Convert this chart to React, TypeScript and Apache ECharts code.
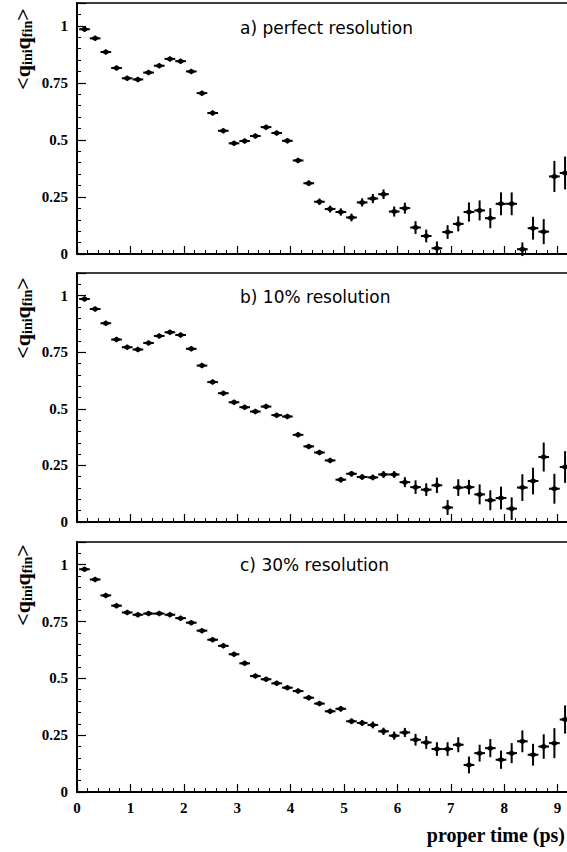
import React, { useEffect, useRef } from 'react';
import * as echarts from 'echarts';

// proper time bin centres (ps)
const TIMES = [
  0.14, 0.34, 0.54, 0.74, 0.94, 1.14, 1.34, 1.54, 1.74, 1.94,
  2.14, 2.34, 2.54, 2.74, 2.94, 3.14, 3.34, 3.54, 3.74, 3.94,
  4.14, 4.34, 4.54, 4.74, 4.94, 5.14, 5.34, 5.54, 5.74, 5.94,
  6.14, 6.34, 6.54, 6.74, 6.94, 7.14, 7.34, 7.54, 7.74, 7.94,
  8.14, 8.34, 8.54, 8.74, 8.94, 9.14,
];
const BIN_HALF_WIDTH = 0.1;

// a) perfect resolution
const VALUES_A = [
  0.985, 0.945, 0.885, 0.815, 0.77, 0.765, 0.795, 0.825, 0.855, 0.845,
  0.8, 0.705, 0.618, 0.54, 0.485, 0.495, 0.517, 0.556, 0.53, 0.496,
  0.41, 0.31, 0.229, 0.197, 0.184, 0.16, 0.226, 0.243, 0.262, 0.186,
  0.201, 0.116, 0.079, 0.025, 0.096, 0.132, 0.184, 0.191, 0.157, 0.22,
  0.22, 0.021, 0.113, 0.098, 0.34, 0.355,
];
const ERRORS_A = [
  0.006, 0.006, 0.006, 0.006, 0.006, 0.006, 0.006, 0.006, 0.006, 0.006,
  0.007, 0.007, 0.007, 0.008, 0.008, 0.008, 0.008, 0.009, 0.009, 0.01,
  0.01, 0.012, 0.014, 0.015, 0.016, 0.017, 0.018, 0.02, 0.021, 0.022,
  0.024, 0.028, 0.028, 0.03, 0.03, 0.033, 0.042, 0.044, 0.044, 0.05,
  0.05, 0.03, 0.05, 0.055, 0.068, 0.072,
];

// b) 10% resolution
const VALUES_B = [
  0.985, 0.941, 0.878, 0.806, 0.772, 0.762, 0.791, 0.822, 0.838, 0.826,
  0.765, 0.691, 0.618, 0.569, 0.529, 0.507, 0.488, 0.51, 0.472, 0.466,
  0.385, 0.334, 0.307, 0.272, 0.187, 0.213, 0.199, 0.197, 0.21, 0.21,
  0.176, 0.154, 0.143, 0.162, 0.064, 0.152, 0.154, 0.122, 0.096, 0.106,
  0.059, 0.152, 0.181, 0.287, 0.147, 0.243,
];
const ERRORS_B = [
  0.006, 0.006, 0.006, 0.006, 0.006, 0.006, 0.006, 0.006, 0.006, 0.006,
  0.007, 0.007, 0.007, 0.008, 0.008, 0.008, 0.008, 0.009, 0.009, 0.01,
  0.01, 0.01, 0.011, 0.011, 0.012, 0.012, 0.012, 0.012, 0.015, 0.015,
  0.022, 0.03, 0.028, 0.034, 0.033, 0.037, 0.032, 0.044, 0.044, 0.05,
  0.05, 0.059, 0.059, 0.064, 0.066, 0.07,
];

// c) 30% resolution
const VALUES_C = [
  0.98, 0.935, 0.865, 0.82, 0.79, 0.78, 0.785, 0.785, 0.78, 0.765,
  0.745, 0.71, 0.67, 0.643, 0.606, 0.566, 0.51, 0.496, 0.478, 0.459,
  0.444, 0.415, 0.389, 0.355, 0.366, 0.311, 0.304, 0.295, 0.267, 0.248,
  0.262, 0.23, 0.218, 0.189, 0.189, 0.208, 0.119, 0.171, 0.193, 0.142,
  0.171, 0.223, 0.164, 0.2, 0.215, 0.319,
];
const ERRORS_C = [
  0.006, 0.006, 0.006, 0.006, 0.006, 0.006, 0.006, 0.006, 0.006, 0.006,
  0.007, 0.007, 0.007, 0.008, 0.008, 0.008, 0.008, 0.009, 0.009, 0.009,
  0.01, 0.01, 0.011, 0.011, 0.012, 0.012, 0.013, 0.015, 0.016, 0.018,
  0.02, 0.026, 0.028, 0.03, 0.03, 0.033, 0.037, 0.037, 0.04, 0.04,
  0.044, 0.048, 0.048, 0.054, 0.066, 0.062,
];

const PANEL_TITLES = ['a) perfect resolution', 'b) 10% resolution', 'c) 30% resolution'];
const Y_TITLE = '<q{s|ini}q{s|fin}>';
const X_TITLE = 'proper time (ps)';
const X_LAST_LABEL = 9;

const SERIF = '"Liberation Serif", "Times New Roman", serif';

export default function App() {
  const ref = useRef<HTMLDivElement>(null);

  useEffect(() => {
    const chart = echarts.init(ref.current as HTMLDivElement, null, { renderer: 'svg' });

    const panels = [
      { top: 3, height: 251, values: VALUES_A, errors: ERRORS_A, titleY: 28, yTitleY: 49 },
      { top: 273, height: 249, values: VALUES_B, errors: ERRORS_B, titleY: 297, yTitleY: 318 },
      { top: 542, height: 250, values: VALUES_C, errors: ERRORS_C, titleY: 565, yTitleY: 585 },
    ];

    const renderItem = (params: any, api: any) => {
      const x = api.value(0);
      const y = api.value(1);
      const e = api.value(2);
      const c = api.coord([x, y]);
      const l = api.coord([x - BIN_HALF_WIDTH, y]);
      const r = api.coord([x + BIN_HALF_WIDTH, y]);
      const t = api.coord([x, y + e]);
      const b = api.coord([x, y - e]);
      return {
        type: 'group',
        children: [
          { type: 'line', shape: { x1: l[0], y1: l[1], x2: r[0], y2: r[1] }, style: { stroke: '#000', lineWidth: 2 } },
          { type: 'line', shape: { x1: t[0], y1: t[1], x2: b[0], y2: b[1] }, style: { stroke: '#000', lineWidth: 2 } },
          {
            type: 'polygon',
            shape: { points: [[c[0] - 4.5, c[1]], [c[0], c[1] - 3], [c[0] + 4.5, c[1]], [c[0], c[1] + 3]] },
            style: { fill: '#000' },
          },
        ],
      };
    };

    const graphic: any[] = [];
    panels.forEach((p, i) => {
      graphic.push({
        type: 'text',
        x: 240,
        y: p.titleY,
        style: {
          text: PANEL_TITLES[i],
          font: '17px "DejaVu Sans", sans-serif',
          fill: '#000',
          align: 'left',
          verticalAlign: 'middle',
          textAlign: 'left',
          textVerticalAlign: 'middle',
        },
      });
      graphic.push({
        type: 'text',
        x: 22,
        y: p.yTitleY,
        rotation: Math.PI / 2,
        style: {
          text: Y_TITLE,
          font: 'bold 22px ' + SERIF,
          fill: '#000',
          lineHeight: 24,
          align: 'center',
          verticalAlign: 'middle',
          textAlign: 'center',
          textVerticalAlign: 'middle',
          rich: {
            s: { fontSize: 14, fontWeight: 'bold', fontFamily: SERIF, lineHeight: 10, verticalAlign: 'bottom', fill: '#000' },
          },
        },
      });
    });
    graphic.push({
      type: 'text',
      x: 565,
      y: 835,
      style: {
        text: X_TITLE,
        font: 'bold 20px ' + SERIF,
        fill: '#000',
        align: 'right',
        verticalAlign: 'middle',
        textAlign: 'right',
        textVerticalAlign: 'middle',
      },
    });

    const option: any = {
      animation: false,
      backgroundColor: '#fff',
      grid: panels.map((p) => ({
        left: 77,
        top: p.top,
        width: 534,
        height: p.height,
        show: true,
        borderColor: '#000',
        borderWidth: 1.5,
        containLabel: false,
      })),
      xAxis: panels.map((p, i) => ({
        type: 'value',
        gridIndex: i,
        min: 0,
        max: 10,
        interval: 1,
        axisLine: { show: true, onZero: false, lineStyle: { color: '#000', width: 2 } },
        axisTick: { show: true, inside: true, length: 8, lineStyle: { color: '#000', width: 1.2 } },
        minorTick: { show: true, splitNumber: 5, length: 4, lineStyle: { color: '#000', width: 1 } },
        splitLine: { show: false },
        axisLabel: {
          show: i === 2,
          color: '#000',
          fontFamily: SERIF,
          fontWeight: 'bold',
          fontSize: 15,
          margin: 8,
          formatter: (v: number) => (v > X_LAST_LABEL ? '' : String(v)),
        },
      })),
      yAxis: panels.map((p, i) => ({
        type: 'value',
        gridIndex: i,
        min: 0,
        max: 1.1,
        interval: 0.25,
        axisLine: { show: true, onZero: false, lineStyle: { color: '#000', width: 2 } },
        axisTick: { show: true, inside: true, length: 9, lineStyle: { color: '#000', width: 1.2 } },
        minorTick: { show: true, splitNumber: 5, length: 4, lineStyle: { color: '#000', width: 1 } },
        splitLine: { show: false },
        axisLabel: {
          color: '#000',
          fontFamily: SERIF,
          fontWeight: 'bold',
          fontSize: 15,
          margin: 9,
          formatter: (v: number) => (v > 1.001 ? '' : String(v)),
        },
      })),
      series: panels.map((p, i) => ({
        type: 'custom',
        xAxisIndex: i,
        yAxisIndex: i,
        renderItem,
        encode: { x: 0, y: 1 },
        data: TIMES.map((t, k) => [t, p.values[k], p.errors[k]]),
      })),
      graphic,
    };

    chart.setOption(option);
    return () => chart.dispose();
  }, []);

  return (
    <div
      style={{
        position: 'fixed',
        left: 0,
        top: 0,
        width: 567,
        height: 852,
        overflow: 'hidden',
        background: '#fff',
      }}
    >
      <div ref={ref} style={{ width: 640, height: 852 }} />
    </div>
  );
}
